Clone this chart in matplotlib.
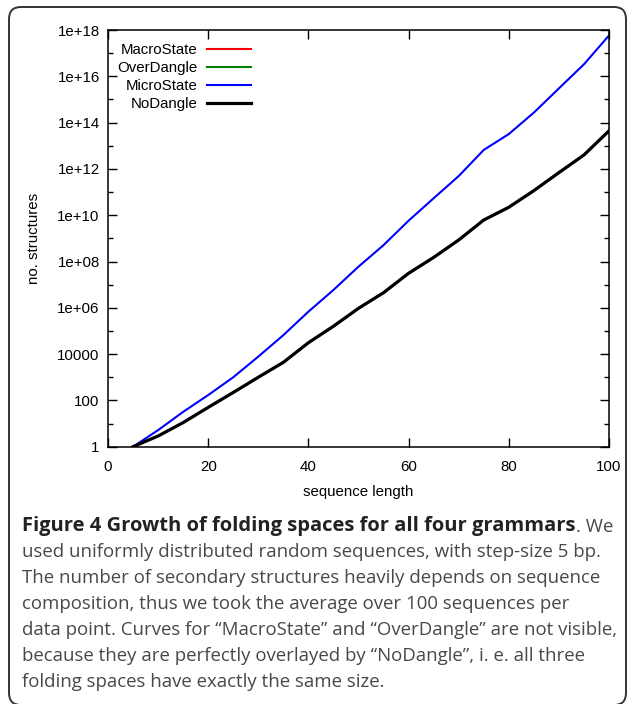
import matplotlib
matplotlib.use("Agg")
import matplotlib.pyplot as plt
from matplotlib.patches import FancyBboxPatch
from matplotlib.transforms import IdentityTransform

# sequence length (bp) vs. number of secondary structures
lengths = [5, 10, 15, 20, 25, 30, 35, 40, 45, 50, 55, 60, 65, 70, 75, 80, 85, 90, 95, 100]
microstate = [1, 5.2, 32, 170, 1.0e3, 7.8e3, 6.6e4, 6.8e5, 5.9e6, 6.0e7,
              5.1e8, 5.8e9, 5.4e10, 4.9e11, 6.6e12, 3.2e13, 2.7e14, 3.0e15, 3.3e16, 5.8e17]
nodangle = [1, 2.9, 11, 50, 220, 1.0e3, 4.4e3, 3.1e4, 1.6e5, 9.5e5,
            4.5e6, 3.1e7, 1.5e8, 8.5e8, 6.2e9, 2.2e10, 1.15e11, 6.9e11, 4.0e12, 4.4e13]
# MacroState and OverDangle are identical to NoDangle
macrostate = nodangle
overdangle = nodangle

yticks = [1, 1e2, 1e4, 1e6, 1e8, 1e10, 1e12, 1e14, 1e16, 1e18]
ytick_labels = ["1", "100", "10000", "1e+06", "1e+08", "1e+10", "1e+12", "1e+14", "1e+16", "1e+18"]
xticks = [0, 20, 40, 60, 80, 100]

caption_bold = "Figure 4 Growth of folding spaces for all four grammars"
caption_lines = [
    ". We",
    "used uniformly distributed random sequences, with step-size 5 bp.",
    "The number of secondary structures heavily depends on sequence",
    "composition, thus we took the average over 100 sequences per",
    "data point. Curves for \u201cMacroState\u201d and \u201cOverDangle\u201d are not visible,",
    "because they are perfectly overlayed by \u201cNoDangle\u201d, i. e. all three",
    "folding spaces have exactly the same size.",
]

plt.rcParams['font.family'] = ['Liberation Sans', 'DejaVu Sans']

fig = plt.figure(figsize=(6.27, 7.04), dpi=100)
W, H = 627, 704
ax = fig.add_axes([108 / W, 1 - 446.7 / H, 501 / W, 416.7 / H])

ax.plot(lengths, macrostate, color="#ff0000", lw=1.5, label="MacroState")
ax.plot(lengths, overdangle, color="#008000", lw=1.5, label="OverDangle")
ax.plot(lengths, microstate, color="#0000ff", lw=1.5, label="MicroState")
ax.plot(lengths, nodangle, color="black", lw=2.3, label="NoDangle")

ax.set_yscale("log")
ax.set_xlim(0, 100)
ax.set_ylim(1, 1e18)
ax.set_yticks(yticks)
ax.set_yticklabels(ytick_labels)
ax.set_yticks([10.0 ** k for k in range(1, 18, 2)], minor=True)
ax.yaxis.set_minor_formatter(matplotlib.ticker.NullFormatter())
ax.set_xticks(xticks)
ax.tick_params(which="both", direction="in", top=True, right=True, labelsize=10.8, width=1)
ax.tick_params(which="major", length=6.5)
ax.tick_params(axis="y", which="major", pad=6)
ax.tick_params(axis="x", which="major", pad=9.5)
ax.tick_params(which="minor", length=3.3)
for s in ax.spines.values():
    s.set_linewidth(1.1)

ax.set_xlabel("sequence length", fontsize=10.8, labelpad=8)
ax.set_ylabel("no. structures", fontsize=10.8, labelpad=12)

ax.legend(loc="upper left", bbox_to_anchor=(0.0, 0.99), frameon=False, markerfirst=False,
          fontsize=10.8, handlelength=2.9, handletextpad=0.65, labelspacing=0.27,
          borderaxespad=0.2)

# rounded frame around figure + caption
frame = FancyBboxPatch((9, -1), 617, H - 7 + 1, boxstyle="round,pad=0,rounding_size=12",
                       transform=IdentityTransform(), fill=False, edgecolor="#333333", lw=1.4)
fig.patches.append(frame)

cap_font = ['Open Sans', 'DejaVu Sans']
baselines = [531, 557, 583, 609, 635, 661, 687]
t1 = fig.text(22 / W, 1 - baselines[0] / H, caption_bold, fontsize=14.5, family=cap_font,
              fontweight="bold", color="#222222", va="baseline")
ax.annotate(caption_lines[0], xy=(1, 0), xycoords=t1, va="bottom", ha="left",
            fontsize=13.4, family=cap_font, color="#484848")
for line, b in zip(caption_lines[1:], baselines[1:]):
    fig.text(22 / W, 1 - b / H, line, fontsize=13.4, family=cap_font, color="#484848",
             va="baseline")

fig.savefig("out.png", dpi=100)
